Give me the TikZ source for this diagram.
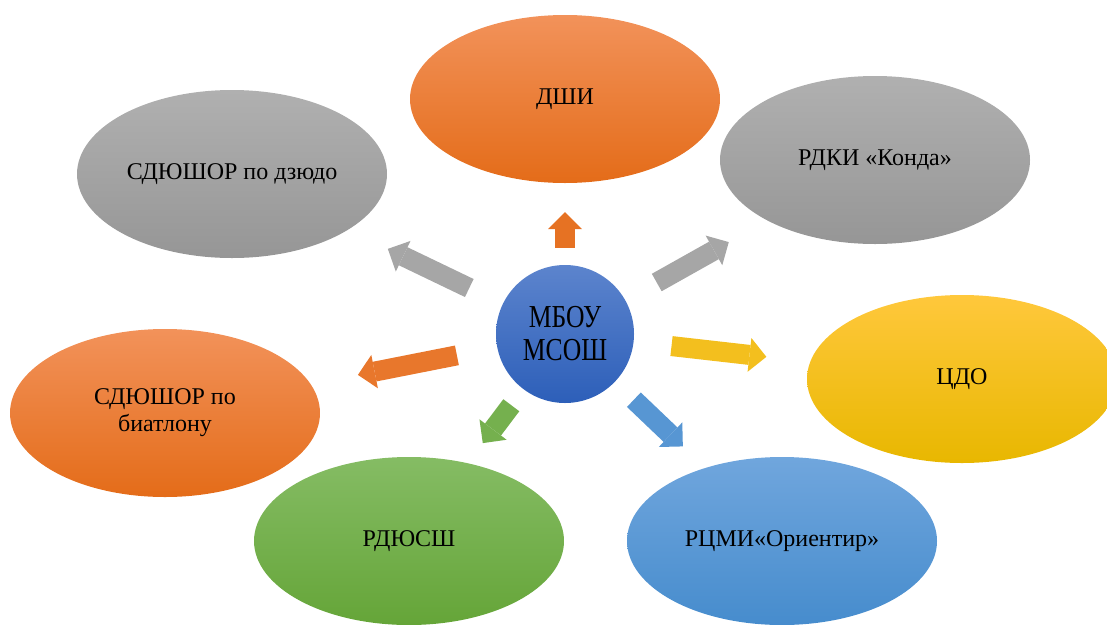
\documentclass[tikz,border=0pt]{standalone}
\usepackage{fontspec}
\setmainfont{Liberation Serif}
\newfontfamily\narrowserif[FakeStretch=0.8]{Liberation Serif}
\usepackage{tikz}
\usetikzlibrary{shapes.geometric}
\usetikzlibrary{arrows.meta}

\definecolor{orangetop}{RGB}{242,146,90}
\definecolor{orangebot}{RGB}{228,108,25}
\definecolor{graytop}{RGB}{176,176,176}
\definecolor{graybot}{RGB}{150,150,150}
\definecolor{yellowtop}{RGB}{255,200,60}
\definecolor{yellowbot}{RGB}{232,183,0}
\definecolor{greentop}{RGB}{133,188,100}
\definecolor{greenbot}{RGB}{101,165,56}
\definecolor{bluetop}{RGB}{112,166,221}
\definecolor{bluebot}{RGB}{70,140,205}
\definecolor{hubtop}{RGB}{92,132,205}
\definecolor{hubbot}{RGB}{45,95,185}

\tikzset{edge/.style = {line width=20pt,-{Triangle[width=34pt,length=17pt,line width=0pt]}}}

\begin{document}
\begin{tikzpicture}[x=1pt,y=-1pt,
    main node/.style={ellipse,draw=none,minimum width=310pt,minimum height=168pt,inner sep=0pt,
        align=center,font=\fontsize{24}{27}\selectfont},
    orange node/.style={main node,top color=orangetop,bottom color=orangebot},
    gray node/.style={main node,top color=graytop,bottom color=graybot},
    yellow node/.style={main node,top color=yellowtop,bottom color=yellowbot},
    green node/.style={main node,top color=greentop,bottom color=greenbot},
    blue node/.style={main node,top color=bluetop,bottom color=bluebot}]
    \useasboundingbox (0,0) rectangle (1107,624);

    \node[circle,minimum size=138pt,inner sep=0pt,top color=hubtop,bottom color=hubbot,align=center,
        font=\narrowserif\fontsize{32}{33}\selectfont] (mbou) at (565,334) {МБОУ\\МСОШ};

    \node[orange node] (dshi) at (565,99) {ДШИ};
    \node[gray node] (dzudo) at (232,174) {СДЮШОР по дзюдо};
    \node[gray node] (konda) at (875,160) {РДКИ «Конда»};
    \node[yellow node] (cdo) at (962,379) {ЦДО};
    \node[orange node] (biatlon) at (165,413) {СДЮШОР по\\биатлону};
    \node[green node] (rdussh) at (409,541) {РДЮСШ};
    \node[blue node] (rcmi) at (782,541) {РЦМИ«Ориентир»};

    \path (mbou) edge[edge,color=orangebot!85!orangetop,shorten <=17pt,shorten >=29pt] (dshi);
    \path (mbou) edge[edge,color=graytop!60!graybot,shorten <=37pt,shorten >=44pt] (dzudo);
    \path (mbou) edge[edge,color=graytop!60!graybot,shorten <=36pt,shorten >=44pt] (konda);
    \path (mbou) edge[edge,color=yellowtop!50!yellowbot,shorten <=38pt,shorten >=44pt] (cdo);
    \path (mbou) edge[edge,color=orangebot!70!orangetop,shorten <=41pt,shorten >=48pt] (biatlon);
    \path (mbou) edge[edge,color=greentop!50!greenbot,shorten <=20pt,shorten >=25pt] (rdussh);
    \path (mbou) edge[edge,color=bluetop!40!bluebot,shorten <=26pt,shorten >=31pt] (rcmi);
\end{tikzpicture}
\end{document}
